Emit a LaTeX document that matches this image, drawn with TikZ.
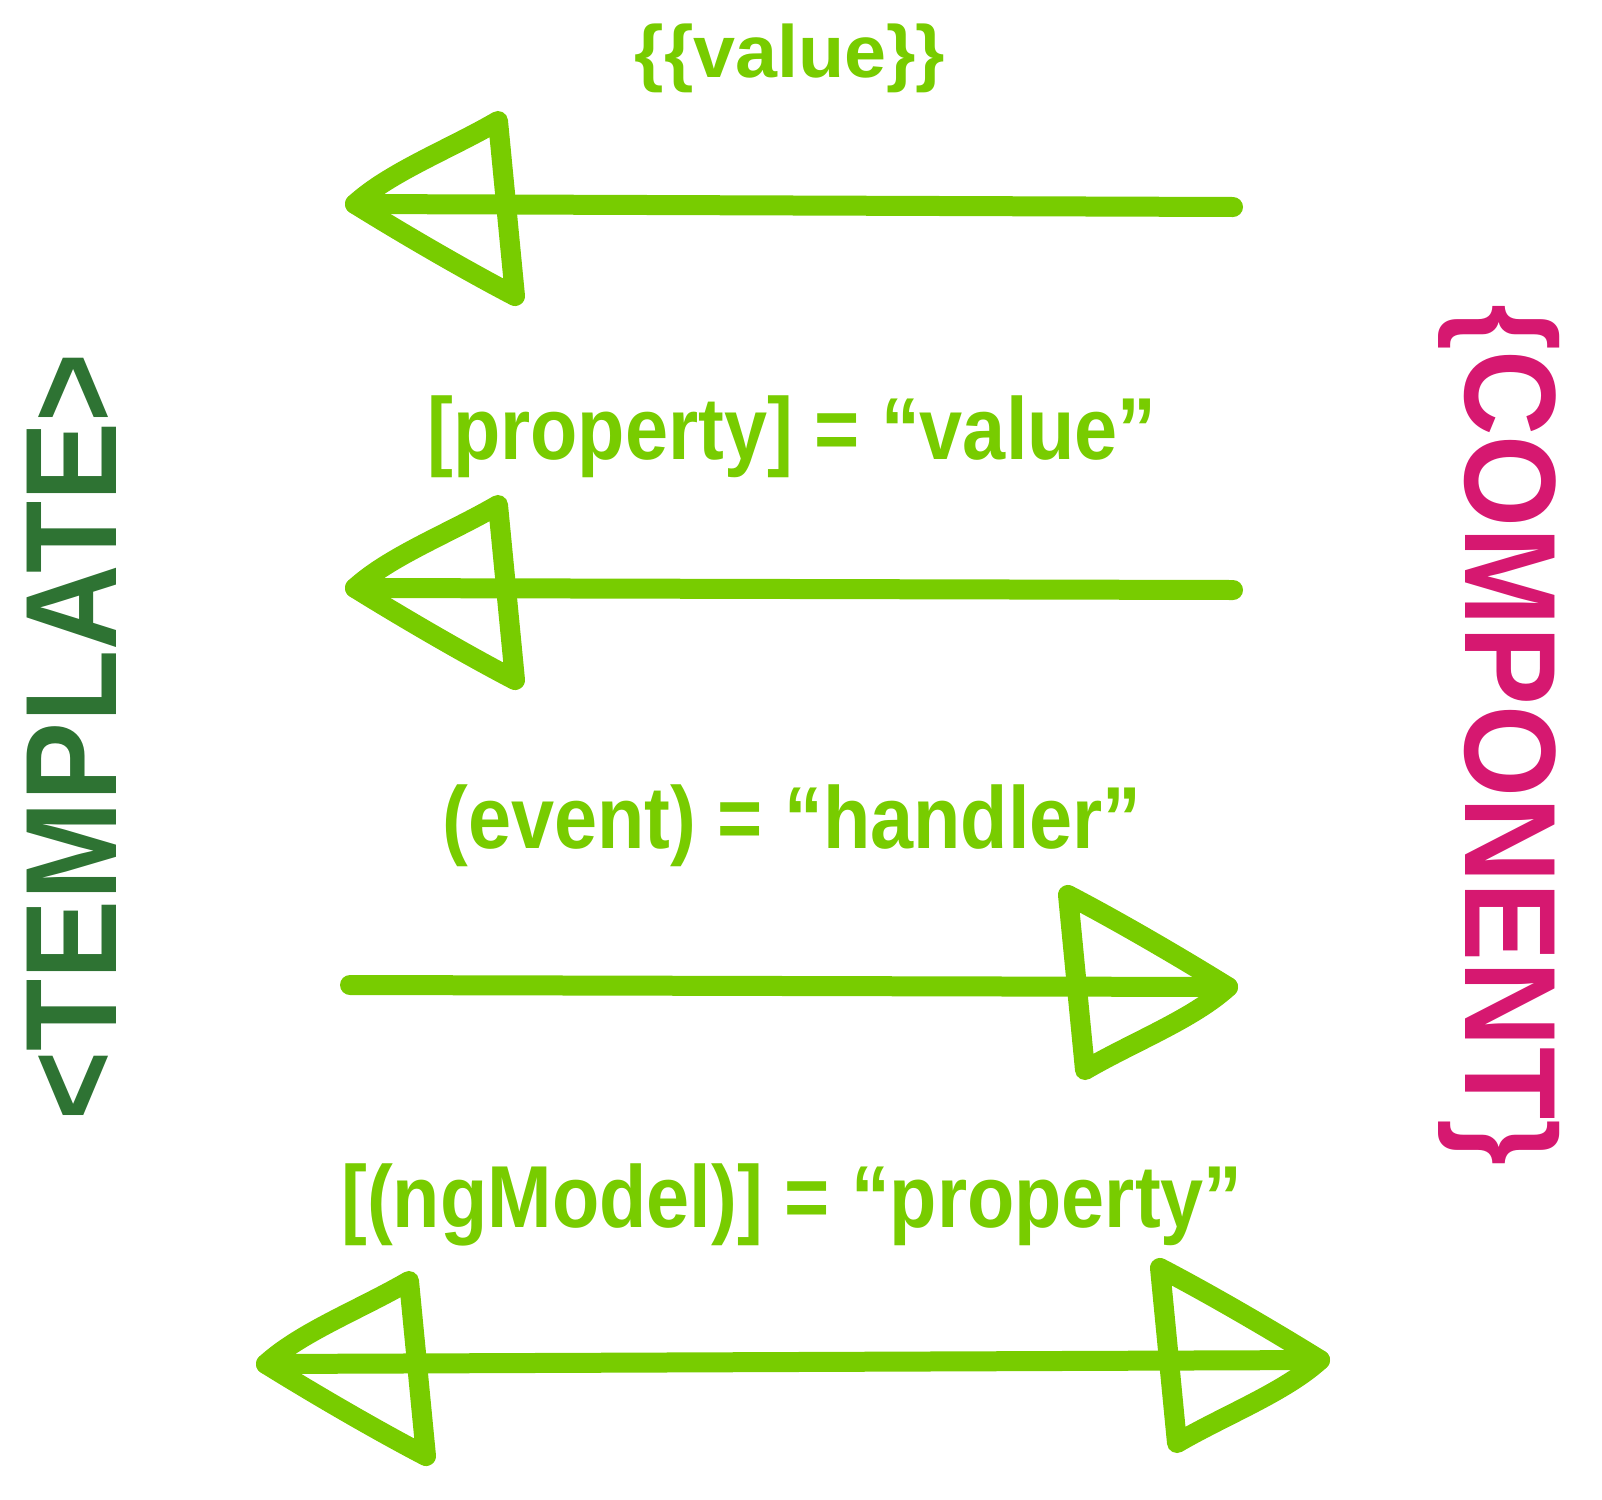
\documentclass[tikz,border=0pt]{standalone}
\usepackage{fontspec}
\setmainfont{Liberation Sans}
\newfontfamily\lblfont[FakeStretch=0.88]{Liberation Sans}
\newfontfamily\valfont[FakeStretch=1.02]{Liberation Sans}
\newfontfamily\sidefont[FakeStretch=0.91]{Liberation Sans}
\definecolor{lime}{RGB}{120,204,0}
\definecolor{tplgreen}{RGB}{46,115,51}
\definecolor{cmppink}{RGB}{214,24,112}
\begin{document}
\begin{tikzpicture}[x=1pt,y=-1pt,
  stroke/.style={draw=lime,line width=20pt,line cap=round,line join=round},
  lbl/.style={text=lime,font=\lblfont\bfseries\fontsize{88}{96}\selectfont,inner sep=0pt},
  side/.style={font=\sidefont\bfseries\fontsize{130}{140}\selectfont,inner sep=0pt}]
\useasboundingbox (0,0) rectangle (1602,1499);
% labels
\node[lbl,font=\valfont\bfseries\fontsize{74}{80}\selectfont] (l1) at (790,58) {\{\{value\}\}};
\node[lbl] (l2) at (792,437) {[property] = “value”};
\node[lbl] (l3) at (792,826) {(event) = “handler”};
\node[lbl] (l4) at (792,1205) {[(ngModel)] = “property”};
\node[side,text=tplgreen,rotate=90] (tpl) at (72,737) {<TEMPLATE>};
\node[side,text=cmppink,rotate=-90] (cmp) at (1499,735) {\{COMPONENT\}};
% arrow end coordinates
\coordinate (a1l) at (355,204); \coordinate (a1r) at (1233,207);
\coordinate (a2l) at (355,588); \coordinate (a2r) at (1233,590);
\coordinate (a3l) at (350,985); \coordinate (a3r) at (1228,987);
\coordinate (a4l) at (266,1364); \coordinate (a4r) at (1320,1360);
% shafts
\draw[stroke] (a1r) -- (a1l);
\draw[stroke] (a2r) -- (a2l);
\draw[stroke] (a3l) -- (a3r);
\draw[stroke] (a4l) -- (a4r);
% heads
\foreach \c/\r in {a1l/0,a2l/0,a3r/180,a4l/0,a4r/180}{
  \draw[stroke,shift={(\c)},rotate=\r]
    (0,0) .. controls (35,-32) and (95,-55) .. (143,-83)
    -- (160,92) .. controls (110,66) and (45,28) .. (0,0);
}
\end{tikzpicture}
\end{document}
